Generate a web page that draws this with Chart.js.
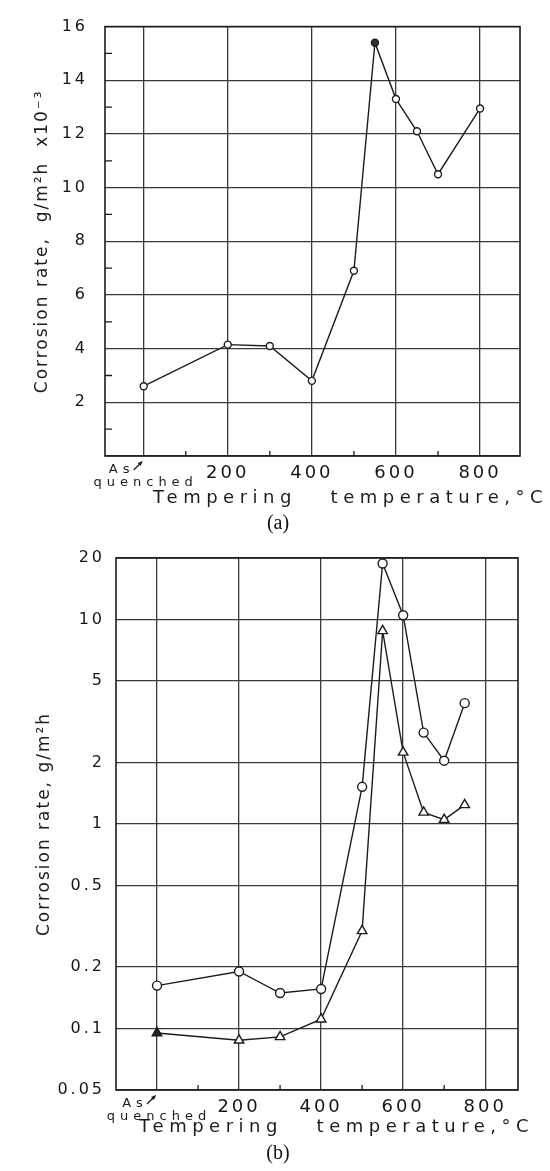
<!DOCTYPE html>
<html>
<head>
<meta charset="utf-8">
<script src="https://cdn.jsdelivr.net/npm/chart.js@4.4.0/dist/chart.umd.min.js"></script>
<style>
  body { margin: 0; background: #fff; width: 550px; height: 1171px; position: relative; overflow: hidden; }
  canvas { position: absolute; left: 0; }
  #chartA { top: 0; }
  #chartB { top: 535px; }
  .cap { position: absolute; left: 0; width: 556px; text-align: center; font: 20px "Liberation Serif", serif; color: #111; line-height: 24px; }
</style>
</head>
<body>
<canvas id="chartA" width="550" height="512"></canvas>
<div class="cap" style="top:510px">(a)</div>
<canvas id="chartB" width="550" height="610"></canvas>
<div class="cap" style="top:1140px">(b)</div>
<script>
// (a) corrosion rate x10^-3, linear axis
const tempA = [0, 200, 300, 400, 500, 550, 600, 650, 700, 800];
const rateA = [2.6, 4.15, 4.1, 2.8, 6.9, 15.4, 13.3, 12.1, 10.5, 12.95];

// (b) corrosion rate, log axis, two series
const tempB = [0, 200, 300, 400, 500, 550, 600, 650, 700, 750];
const circleB = [0.162, 0.19, 0.149, 0.156, 1.52, 18.8, 10.5, 2.8, 2.04, 3.9];
const triangleB = [0.095, 0.0875, 0.091, 0.111, 0.3, 8.8, 2.24, 1.14, 1.05, 1.24];

const xTicks = [0, 200, 400, 600, 800];
const xMinor = [100, 300, 500, 700];
const yTicksA = [0, 2, 4, 6, 8, 10, 12, 14, 16];
const yMinorA = [1, 3, 5, 7, 9, 11, 13, 15];
const yTicksB = [0.05, 0.1, 0.2, 0.5, 1, 2, 5, 10, 20];

const ink = '#1c1c1c';
const gridInk = '#3a3a3a';
const face = 'DejaVu Sans';

function pts(xs, ys) {
  return xs.map((v, i) => ({ x: v, y: ys[i] }));
}

// frame, minor ticks, "As quenched" label and the axis titles
const decor = {
  id: 'decor',
  beforeUpdate(chart) { chart.ctx.letterSpacing = '3px'; },
  beforeDraw(chart) { chart.ctx.letterSpacing = '3px'; },
  afterDraw(chart, args, o) {
    const { ctx, chartArea: a } = chart;
    const x = chart.scales.x, y = chart.scales.y;
    ctx.save();
    ctx.strokeStyle = ink;
    ctx.lineWidth = 1.6;
    ctx.strokeRect(a.left, a.top, a.right - a.left, a.bottom - a.top);

    ctx.lineWidth = 1.3;
    ctx.beginPath();
    xMinor.forEach(v => {
      const px = x.getPixelForValue(v);
      ctx.moveTo(px, a.bottom);
      ctx.lineTo(px, a.bottom - 5);
    });
    (o.minorY || []).forEach(v => {
      const py = y.getPixelForValue(v);
      ctx.moveTo(a.left, py);
      ctx.lineTo(a.left + 7, py);
    });
    ctx.stroke();

    // As quenched
    const x0 = x.getPixelForValue(0);
    ctx.fillStyle = ink;
    ctx.textAlign = 'center';
    ctx.textBaseline = 'middle';
    ctx.font = '13px "' + face + '"';
    ctx.letterSpacing = '5px';
    ctx.fillText('As', x0 - 22, a.bottom + 14);
    ctx.fillText('quenched', x0 + 2, a.bottom + 27);
    ctx.beginPath();
    ctx.moveTo(x0 - 10, a.bottom + 14);
    ctx.lineTo(x0 - 2, a.bottom + 6);
    ctx.stroke();
    ctx.beginPath();
    ctx.moveTo(x0 - 1, a.bottom + 5);
    ctx.lineTo(x0 - 6, a.bottom + 7);
    ctx.lineTo(x0 - 3, a.bottom + 10);
    ctx.closePath();
    ctx.fill();

    // x title
    ctx.font = '18px "' + face + '"';
    ctx.letterSpacing = '5.5px';
    ctx.textAlign = 'right';
    ctx.fillText('Tempering   temperature,°C', a.right + o.xTitleEnd, a.bottom + o.xTitleDy);

    // y title
    ctx.translate(o.yTitleX, (a.top + a.bottom) / 2);
    ctx.rotate(-Math.PI / 2);
    ctx.textAlign = 'center';
    ctx.font = '17px "' + face + '"';
    ctx.letterSpacing = '2px';
    ctx.fillText(o.yTitle, 0, 0);
    ctx.restore();
  }
};

function xScale(min, max) {
  return {
    type: 'linear', min: min, max: max,
    afterBuildTicks: s => { s.ticks = xTicks.map(v => ({ value: v })); },
    ticks: {
      callback: v => v === 0 ? '' : String(v),
      font: { family: face, size: 18 }, color: '#161616',
      padding: 7, maxRotation: 0, autoSkip: false
    },
    grid: { color: gridInk, lineWidth: 1.3, drawTicks: false },
    border: { display: false }
  };
}

const lineStyle = {
  borderColor: ink, borderWidth: 1.4, tension: 0,
  pointBorderColor: ink, pointBorderWidth: 1.4
};

new Chart(document.getElementById('chartA'), {
  type: 'line',
  data: {
    datasets: [Object.assign({
      data: pts(tempA, rateA),
      pointStyle: 'circle', pointRadius: 3.5,
      pointBackgroundColor: c => c.raw && c.raw.y === Math.max(...rateA) ? '#333' : '#fff'
    }, lineStyle)]
  },
  options: {
    responsive: false, animation: false,
    layout: { padding: { top: 20, right: 30, left: 0, bottom: 0 } },
    plugins: {
      legend: { display: false }, tooltip: { enabled: false },
      decor: { minorY: yMinorA, xTitleEnd: 28, xTitleDy: 42, yTitleX: 43,
               yTitle: 'Corrosion rate,  g/m²h  x10⁻³' }
    },
    scales: {
      x: Object.assign(xScale(-92, 895), { afterFit: s => { s.height = 56; } }),
      y: {
        type: 'linear', min: 0, max: 16,
        afterBuildTicks: s => { s.ticks = yTicksA.map(v => ({ value: v })); },
        afterFit: s => { s.width = 105; },
        ticks: {
          callback: v => v === 0 ? '' : String(v),
          font: { family: face, size: 16 }, color: '#161616', padding: 17
        },
        grid: { color: gridInk, lineWidth: 1.3, drawTicks: false },
        border: { display: false }
      }
    }
  },
  plugins: [decor]
});

new Chart(document.getElementById('chartB'), {
  type: 'line',
  data: {
    datasets: [
      Object.assign({
        data: pts(tempB, circleB),
        pointStyle: 'circle', pointRadius: 4.5, pointBackgroundColor: '#fff'
      }, lineStyle),
      Object.assign({
        data: pts(tempB, triangleB),
        pointStyle: 'triangle', pointRadius: 5.5,
        pointBackgroundColor: c => c.dataIndex === 0 ? '#222' : '#fff'
      }, lineStyle)
    ]
  },
  options: {
    responsive: false, animation: false,
    layout: { padding: { top: 23, right: 32, left: 0, bottom: 0 } },
    plugins: {
      legend: { display: false }, tooltip: { enabled: false },
      decor: { xTitleEnd: 16, xTitleDy: 37, yTitleX: 45,
               yTitle: 'Corrosion rate, g/m²h' }
    },
    scales: {
      x: Object.assign(xScale(-100, 880), { afterFit: s => { s.height = 55; } }),
      y: {
        type: 'logarithmic', min: 0.05, max: 20,
        afterBuildTicks: s => { s.ticks = yTicksB.map(v => ({ value: v })); },
        afterFit: s => { s.width = 116; },
        ticks: {
          callback: v => String(v),
          font: { family: face, size: 16 }, color: '#161616', padding: 11
        },
        grid: { color: gridInk, lineWidth: 1.3, drawTicks: false },
        border: { display: false }
      }
    }
  },
  plugins: [decor]
});
</script>
</body>
</html>
